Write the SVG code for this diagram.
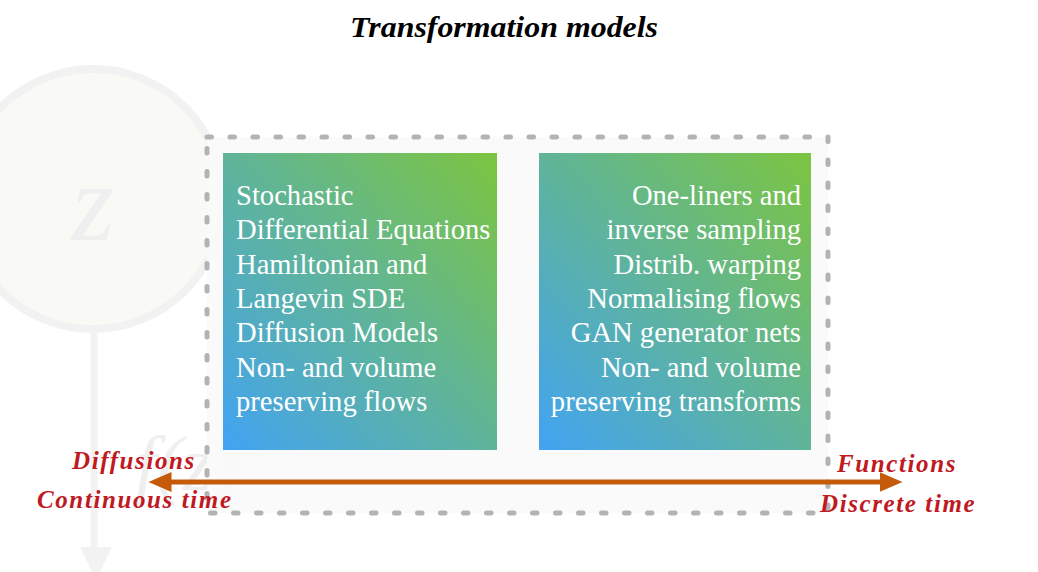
<svg xmlns="http://www.w3.org/2000/svg" width="1038" height="572" viewBox="0 0 1038 572">
<style>
.box-text{font-family:"Liberation Serif","Times New Roman",serif;font-size:28.6px;fill:#ffffff;}
.axis-label{font-family:"Liberation Serif","Times New Roman",serif;font-size:25px;font-weight:bold;font-style:italic;fill:#c0191f;letter-spacing:1.6px;}
.ghost{font-family:"Liberation Serif","Times New Roman",serif;font-style:italic;fill:#efefef;}
</style>
<defs>
<linearGradient id="grad" x1="0" y1="1" x2="1" y2="0">
<stop offset="0" stop-color="#42a3f3"/>
<stop offset="1" stop-color="#7cc540"/>
</linearGradient>
<marker id="arrowhead" markerWidth="5" markerHeight="4" refX="0.5" refY="2" orient="auto-start-reverse" markerUnits="strokeWidth">
<path d="M0,0 L4.6,2 L0,4 Z" fill="#c55a0a"/>
</marker>
</defs>
<rect width="1038" height="572" fill="#ffffff"/>
<g id="background-latent">
<circle cx="93" cy="199" r="130" fill="#f9faf5" stroke="#f2f2f2" stroke-width="8"/>
<text class="ghost" x="93" y="240" font-size="110" text-anchor="middle">z</text>
<line x1="94" y1="333" x2="94" y2="550" stroke="#f2f2f2" stroke-width="7"/>
<path d="M80,547 L112,547 L96,580 Z" fill="#f2f2f2"/>
<text class="ghost" x="135" y="490" font-size="78">f(z)</text>
</g>
<text id="title" x="504" y="37" text-anchor="middle" font-family="'Liberation Serif','Times New Roman',serif" font-size="30" font-weight="bold" font-style="italic" fill="#000000" textLength="308" lengthAdjust="spacingAndGlyphs">Transformation models</text>
<g id="container">
<rect x="207" y="137" width="621" height="376" fill="#f9f9f9" fill-opacity="0.9" stroke="#b3b3b3" stroke-width="5" stroke-linecap="round" stroke-dasharray="4.5 18.5"/>
</g>
<g id="node-continuous">
<rect x="223" y="153" width="274" height="297" fill="url(#grad)"/>
<text class="box-text" x="236" y="205">Stochastic</text>
<text class="box-text" x="236" y="239.3">Differential Equations</text>
<text class="box-text" x="236" y="273.6">Hamiltonian and</text>
<text class="box-text" x="236" y="307.9">Langevin SDE</text>
<text class="box-text" x="236" y="342.2">Diffusion Models</text>
<text class="box-text" x="236" y="376.5">Non- and volume</text>
<text class="box-text" x="236" y="410.8">preserving flows</text>
</g>
<g id="node-discrete">
<rect x="539" y="153" width="272" height="297" fill="url(#grad)"/>
<g text-anchor="end">
<text class="box-text" x="801" y="205">One-liners and</text>
<text class="box-text" x="801" y="239.3">inverse sampling</text>
<text class="box-text" x="801" y="273.6">Distrib. warping</text>
<text class="box-text" x="801" y="307.9">Normalising flows</text>
<text class="box-text" x="801" y="342.2">GAN generator nets</text>
<text class="box-text" x="801" y="376.5">Non- and volume</text>
<text class="box-text" x="801" y="410.8">preserving transforms</text>
</g>
</g>
<g id="connectors">
<line x1="169" y1="482" x2="882" y2="482" stroke="#c55a0a" stroke-width="5" marker-start="url(#arrowhead)" marker-end="url(#arrowhead)"/>
</g>
<g id="labels">
<text class="axis-label" x="72" y="469">Diffusions</text>
<text class="axis-label" x="37" y="508">Continuous time</text>
<text class="axis-label" x="837" y="472">Functions</text>
<text class="axis-label" x="820" y="512">Discrete time</text>
</g>
</svg>
